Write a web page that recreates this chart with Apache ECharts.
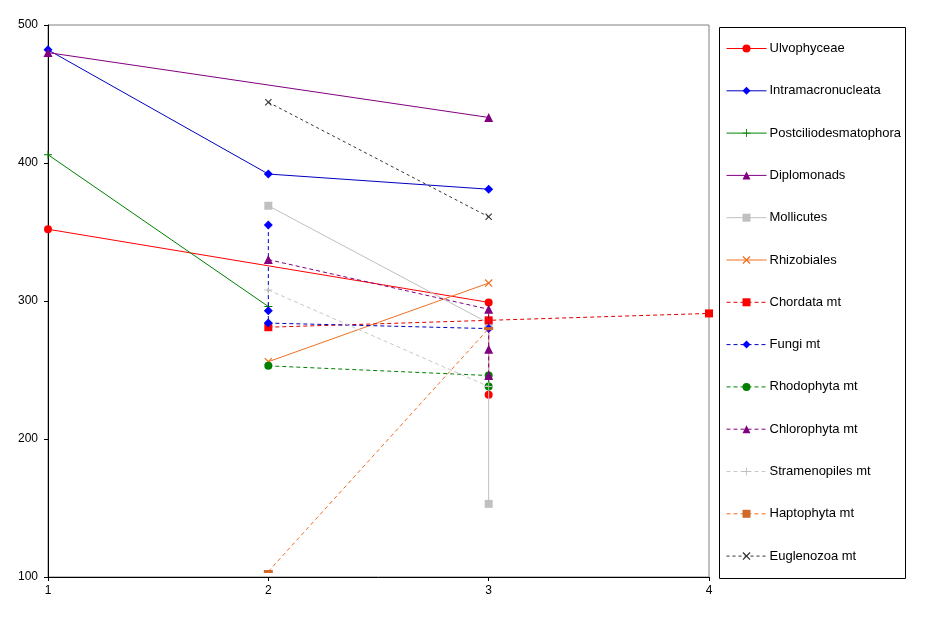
<!DOCTYPE html>
<html>
<head>
<meta charset="utf-8">
<script src="https://cdn.jsdelivr.net/npm/echarts@6/dist/echarts.min.js"></script>
<style>
html,body{margin:0;padding:0;background:#fff;}
#chart{width:928px;height:618px;}
</style>
</head>
<body>
<div id="chart"></div>
<script>
// ---- data (x position, value) per series ----
const seriesNames = ["Ulvophyceae","Intramacronucleata","Postciliodesmatophora","Diplomonads","Mollicutes","Rhizobiales","Chordata mt","Fungi mt","Rhodophyta mt","Chlorophyta mt","Stramenopiles mt","Haptophyta mt","Euglenozoa mt"];
const ulvophyceae = [[1,352],[3,299],[3,232]];
const intramacronucleata = [[1,482],[2,392],[3,381]];
const postciliodesmatophora = [[1,406],[2,296]];
const diplomonads = [[1,480],[3,433]];
const mollicutes = [[2,369],[3,284],[3,153]];
const rhizobiales = [[2,256],[3,313]];
const chordataMt = [[2,281],[3,286],[4,291]];
const fungiMt = [[2,355],[2,293],[2,284],[3,280]];
const rhodophytaMt = [[2,253],[3,246],[3,238]];
const chlorophytaMt = [[2,330],[3,294],[3,265],[3,246]];
const stramenopilesMt = [[2,308],[3,238]];
const haptophytaMt = [[2,104],[3,280]];
const euglenozoaMt = [[2,444],[3,361]];
const xTicks = [1,2,3,4];
const yTicks = [100,200,300,400,500];

const PLUS = 'path://M4,0H5V9H4Z M0,4H9V5H0Z';
const CROSS = 'path://M0,1L1,0L9,8L8,9Z M8,0L9,1L1,9L0,8Z';
const DASH = 'path://M0,0H9V3H0Z';

const styles = [
  {data: ulvophyceae, line:'#ff0000', mark:'#ff0000', symbol:'circle', size:8, dash:'solid'},
  {data: intramacronucleata, line:'#0000c0', mark:'#0000ff', symbol:'diamond', size:9, dash:'solid'},
  {data: postciliodesmatophora, line:'#008000', mark:'#008000', symbol:PLUS, size:8, dash:'solid'},
  {data: diplomonads, line:'#800080', mark:'#800080', symbol:'triangle', size:9, dash:'solid'},
  {data: mollicutes, line:'#c0c0c0', mark:'#c0c0c0', symbol:'rect', size:8, dash:'solid'},
  {data: rhizobiales, line:'#f07020', mark:'#f07020', symbol:CROSS, size:8, dash:'solid'},
  {data: chordataMt, line:'#e00000', mark:'#ff0000', symbol:'rect', size:8, dash:[4,3]},
  {data: fungiMt, line:'#0000c0', mark:'#0000ff', symbol:'diamond', size:9, dash:[4,3]},
  {data: rhodophytaMt, line:'#008000', mark:'#008000', symbol:'circle', size:8, dash:[4,3]},
  {data: chlorophytaMt, line:'#800080', mark:'#800080', symbol:'triangle', size:9, dash:[4,3]},
  {data: stramenopilesMt, line:'#c8c8c8', mark:'#c0c0c0', symbol:PLUS, size:8, dash:[4,3]},
  {data: haptophytaMt, line:'#f07020', mark:'#d06828', symbol:DASH, size:9, dash:[4,3], keep: true},
  {data: euglenozoaMt, line:'#333333', mark:'#333333', symbol:CROSS, size:7, dash:[3,3]}
];

const series = styles.map((s,i)=>({
  name: seriesNames[i],
  type: 'line',
  data: s.data,
  symbol: s.symbol,
  symbolSize: s.size,
  symbolKeepAspect: !!s.keep,
  showSymbol: true,
  lineStyle: {color: s.line, width: 1, type: s.dash},
  itemStyle: {color: s.mark},
  emphasis: {disabled: true},
  z: 2 + i
}));

const chart = echarts.init(document.getElementById('chart'), null, {renderer:'canvas'});
chart.setOption({
  animation: false,
  backgroundColor: '#ffffff',
  textStyle: {fontFamily: 'Liberation Sans, Arial, sans-serif'},
  grid: {left: 48, top: 25, right: 219, bottom: 41, show: true, borderColor: '#808080', borderWidth: 1, backgroundColor: 'transparent'},
  xAxis: {
    type: 'value', min: xTicks[0], max: xTicks[xTicks.length-1], interval: 1,
    axisLine: {show: true, onZero: false, lineStyle: {color: '#000', width: 1}},
    axisTick: {show: true, length: 4, lineStyle: {color: '#000'}},
    axisLabel: {color: '#000', fontSize: 12, margin: 8, fontFamily: 'Liberation Sans'},
    splitLine: {show: false}
  },
  yAxis: {
    type: 'value', min: yTicks[0], max: yTicks[yTicks.length-1], interval: 100,
    axisLine: {show: true, onZero: false, lineStyle: {color: '#000', width: 1}},
    axisTick: {show: true, length: 4, lineStyle: {color: '#000'}},
    axisLabel: {color: '#000', fontSize: 12, margin: 10, fontFamily: 'Liberation Sans'},
    splitLine: {show: false}
  },
  legend: {
    orient: 'vertical',
    left: 719, top: 27,
    padding: [15, 6, 14, 7],
    itemWidth: 40, itemHeight: 10,
    itemGap: 29.3,
    selectedMode: false,
    lineStyle: {width: 1},
    textStyle: {color: '#000', fontSize: 13, fontFamily: 'Liberation Sans', padding: [0,0,0,-2]},
    data: seriesNames
  },
  graphic: [{
    type: 'rect', shape: {x: 719.5, y: 27.5, width: 186, height: 551},
    style: {fill: 'none', stroke: '#000', lineWidth: 1}, silent: true, z: 100
  }],
  series: series
});
</script>
</body>
</html>
